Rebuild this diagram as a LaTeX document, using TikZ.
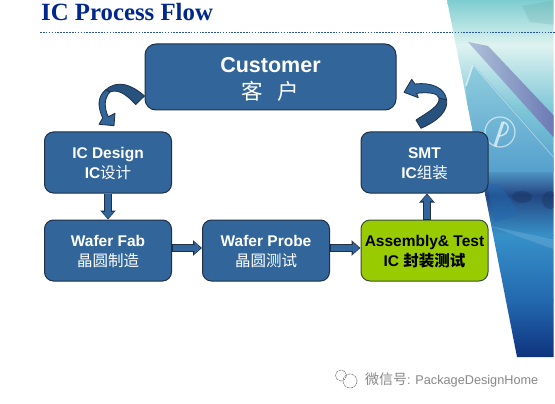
\documentclass[tikz,border=0pt]{standalone}
\usepackage{fontspec}
\setmainfont{Liberation Sans}
\newfontfamily\titlefont{Liberation Serif}
\newfontfamily\cjk{Noto Sans CJK SC}
\usepackage{xcolor}
\usetikzlibrary{arrows.meta}
\definecolor{boxblue}{RGB}{50,101,153}
\definecolor{boxdark}{RGB}{38,82,125}
\definecolor{edgeblue}{RGB}{32,48,72}
\definecolor{boxgreen}{RGB}{153,204,0}
\definecolor{titleblue}{RGB}{0,40,140}
\definecolor{dotblue}{RGB}{40,85,150}
\definecolor{markgray}{RGB}{135,135,135}
\definecolor{panelA}{RGB}{125,205,208}
\definecolor{panelB}{RGB}{222,243,240}
\definecolor{panelC}{RGB}{125,198,216}
\definecolor{panelD}{RGB}{85,160,205}
\definecolor{panelE}{RGB}{35,70,130}
\definecolor{panelF}{RGB}{55,145,200}
\definecolor{panelG}{RGB}{35,105,175}
\definecolor{panelH}{RGB}{15,50,125}
\definecolor{panelband}{RGB}{105,120,180}
\newcommand{\lineup}{\rule{0pt}{13pt}}
\tikzset{
  procbox/.style={draw=edgeblue, line width=1pt, fill=boxblue, rounded corners=9pt,
    minimum width=127pt, minimum height=61pt, text=white, align=center,
    font=\bfseries\fontsize{15.5}{20}\selectfont},
  blockarrow/.style={line width=7.5pt, draw=edgeblue, -{Triangle[length=9pt,width=15pt]},
    postaction={draw=boxblue, line width=5.5pt, shorten <=0.6pt, shorten >=1.2pt,
      -{Triangle[length=6.5pt,width=11.5pt]}}},
  curvedarrow/.style={draw=edgeblue, line width=0.8pt, fill=boxblue, line join=round},
  curvedback/.style={curvedarrow, fill=boxdark},
}
\begin{document}
\begin{tikzpicture}[x=1pt, y=-1pt]
  \useasboundingbox (0,0) rectangle (555,404);
  % side panel on the right
  \begin{scope}
    \clip (447,0) -- (553.5,0) -- (553.5,357) -- (517,357) -- cycle;
    \foreach \ya/\yb/\ca/\cb in {0/45/panelA/panelB, 45/110/panelB/panelC, 110/168/panelC/panelD,
        168/195/panelD/panelE, 195/235/panelE/panelF, 235/300/panelF/panelG, 300/358/panelG/panelH} {
      \shade[top color=\ca, bottom color=\cb] (440,\ya) rectangle (556,\yb);
    }
    \fill[panelA!75!black, opacity=0.2] (522,6) -- (556,0) -- (556,25) -- (530,22) -- cycle;
    % diagonal band
    \shade[left color=panelB!60!panelband, right color=panelband] (468,42) -- (488,46) -- (556,118) -- (556,140) -- cycle;
    \shade[top color=panelC!85!white, bottom color=panelD] (473,64) -- (556,157) -- (556,172) -- (470,172) -- (466,86) -- cycle;
    \draw[white, opacity=0.6, line width=1.5pt] (473,65) -- (466,86);
    \draw[white, opacity=0.4, line width=0.8pt] (473,65) -- (556,160);
    % round mark
    \draw[white, opacity=0.6, line width=1.2pt] (500,132) circle (15);
    \draw[white, opacity=0.65, line width=3pt] (503,122) -- (495,146);
    \draw[white, opacity=0.65, line width=1.5pt] (503,122) .. controls (512,124) and (508,136) .. (499,136);
    % dark spots and streaks
    \fill[panelE!70!black, opacity=0.4] (522,197) ellipse (10 and 6);
    \fill[panelE!70!black, opacity=0.4] (550,200) ellipse (8 and 9);
    \fill[panelF!70!white, opacity=0.4] (490,226) -- (556,240) -- (556,250) -- cycle;
    \fill[panelG, opacity=0.5] (487,184) -- (500,184) -- (520,215) -- (495,222) -- cycle;
  \end{scope}
  % title
  \node[anchor=base west, inner sep=0pt, text=titleblue, font=\titlefont\bfseries\fontsize{24.8}{25}\selectfont] (title) at (41,21) {IC Process Flow};
  \draw[dotblue, line width=1.7pt, dash pattern=on 1.6pt off 1.3pt] (40,32.5) -- (555,32.5);
  % process boxes
  \node[procbox, minimum width=251pt, minimum height=66pt, rounded corners=11pt, font=\bfseries\fontsize{21.5}{27}\selectfont] (customer) at (270.5,77) {\rule{0pt}{20pt}Customer\\{\cjk\mdseries 客\ \ \ 户}};
  \node[procbox] (design) at (108,162.5) {\lineup IC Design\\IC{\cjk\mdseries 设计}};
  \node[procbox] (fab) at (108,250.5) {\lineup Wafer Fab\\{\cjk\mdseries 晶圆制造}};
  \node[procbox] (probe) at (266,250.5) {\lineup Wafer Probe\\{\cjk\mdseries 晶圆测试}};
  \node[procbox, fill=boxgreen, text=black, draw=edgeblue!80!boxgreen] (assembly) at (424.5,250.5) {\lineup Assembly\& Test\\IC {\cjk\bfseries 封装测试}};
  \node[procbox] (smt) at (424.5,162.5) {\lineup SMT\\IC{\cjk\mdseries 组装}};
  % straight arrows
  \draw[blockarrow] (design) -- (fab);
  \draw[blockarrow] ([yshift=2.5pt]fab.east) -- ([yshift=2.5pt]probe.west);
  \draw[blockarrow] ([yshift=2.5pt]probe.east) -- ([yshift=2.5pt]assembly.west);
  \draw[blockarrow] ([xshift=2.5pt]assembly.north) -- ([xshift=2.5pt]smt.south);
  % curved arrow from the customer to the design box
  \draw[curvedback] (144.5,96) .. controls (132,85) and (118,79) .. (105.5,90)
    -- (110,92) .. controls (118,89) and (126,94) .. (135.7,104.5) -- cycle;
  \draw[curvedarrow] (105.5,90) .. controls (98,96) and (97,106) .. (102.7,118) -- (99,124.3) -- (114,125.7)
    -- (115,113.3) -- (108.3,116.7) .. controls (104,108) and (104,98) .. (110,92) -- cycle;
  % curved arrow from the smt box to the customer
  \draw[curvedarrow] (446.7,100)
    .. controls (445,88) and (432,82) .. (415,84) -- (411.7,79.3) -- (404,92.3) -- (418.3,97.7) -- (416.7,93.3)
    .. controls (428,92) and (438,93) .. (439,98) -- cycle;
  \draw[curvedback] (421,128.3) .. controls (440,120) and (448,110) .. (446.7,100) -- (439,98)
    .. controls (440,106) and (428,112) .. (416,120) -- cycle;
  % watermark
  \draw[markgray, line width=0.6pt, dash pattern=on 3pt off 0.8pt] (350,381) circle (7);
  \draw[markgray, line width=0.6pt, dash pattern=on 3pt off 0.8pt] (341,375.5) circle (5.5);
  \node[anchor=base west, inner sep=0pt, text=markgray, font=\fontsize{12.7}{14}\selectfont] (mark) at (365,384) {{\cjk\fontsize{14}{14}\selectfont 微信号}: PackageDesignHome};
\end{tikzpicture}
\end{document}
